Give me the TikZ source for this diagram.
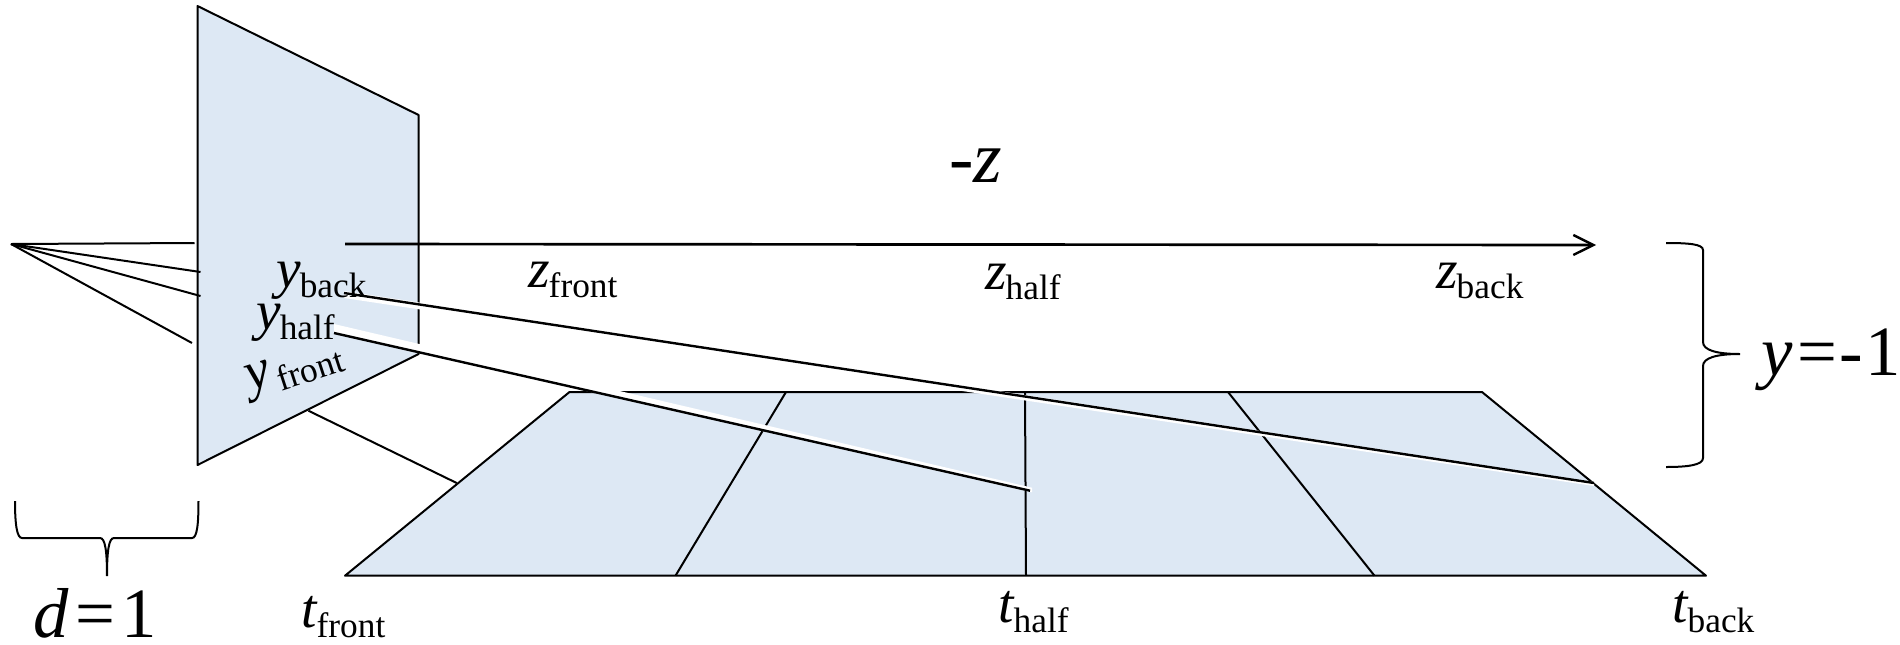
\documentclass[tikz,border=0pt]{standalone}
\usepackage{fontspec}
\setmainfont{Liberation Serif}
\usetikzlibrary{arrows.meta}
\definecolor{planefill}{HTML}{DDE8F4}
\newcommand{\mainsize}{\fontsize{41.5}{45}\selectfont}
\newcommand{\subsize}{\fontsize{26.5}{30}\selectfont}
\newcommand{\bigsize}{\fontsize{53}{58}\selectfont}
\newcommand{\lbl}[2]{\mainsize\textit{#1}\kern-0.6pt\raisebox{-7.5pt}{\subsize #2}}
\tikzset{
  edge/.style={draw=black,line width=1.5pt,line join=miter},
  plane/.style={fill=planefill,draw=black,line width=1.5pt,line join=round},
  halo/.style={fill=white,draw=none},
  ray/.style={draw=black,line width=1.8pt},
  axis/.style={draw=black,line width=2pt,-{Straight Barb[length=15pt,width=15pt,line width=1.8pt]}},
  txt/.style={anchor=base west,inner sep=0pt,outer sep=0pt,text=black}
}
\begin{document}
\begin{tikzpicture}[x=0.75pt,y=-0.75pt]
\useasboundingbox (0,0) rectangle (1900,644);
% image plane
\coordinate (pa) at (197.5,6);
\coordinate (pb) at (418.6,115);
\coordinate (pc) at (418.6,354);
\coordinate (pd) at (197.5,465);
\path[plane] (pa) -- (pb) -- (pc) -- (pd) -- cycle;
% ground plane
\coordinate (ga) at (569.5,392);
\coordinate (gb) at (1482,392);
\coordinate (gc) at (1706,575.7);
\coordinate (gd) at (345,575.7);
\path[plane] (ga) -- (gb) -- (gc) -- (gd) -- cycle;
\coordinate (g1a) at (786,392);
\coordinate (g1b) at (675.5,575.7);
\coordinate (g2a) at (1025,392);
\coordinate (g2b) at (1026,575.7);
\coordinate (g3a) at (1228,392);
\coordinate (g3b) at (1374.5,575.7);
\draw[edge] (g1a) -- (g1b);
\draw[edge] (g2a) -- (g2b);
\draw[edge] (g3a) -- (g3b);
\coordinate (la) at (308.4,410.7);
\coordinate (lb) at (456.7,483);
\draw[edge] (la) -- (lb);
% eye rays
\coordinate (eye) at (11,244);
\coordinate (e1) at (194.5,243);
\coordinate (e2) at (200.5,272);
\coordinate (e3) at (200.5,296);
\coordinate (e4) at (192,343);
\draw[edge] (eye) -- (e1);
\draw[edge] (eye) -- (e2);
\draw[edge] (eye) -- (e3);
\draw[edge] (eye) -- (e4);
% axis
\coordinate (ax0) at (345,244);
\coordinate (ax1) at (1596,245);
\draw[axis] (ax0) -- (ax1);
% projected rays with their white bands
\coordinate (r1a) at (344,293);
\coordinate (r1b) at (1594,483);
\coordinate (r2a) at (334,333);
\coordinate (r2b) at (1030,490.7);
\fill[halo] ([yshift=1.5pt]r1a) -- ([yshift=0.75pt]r1b) -- ([yshift=-2.25pt]r1b) -- ([yshift=-3.75pt]r1a) -- cycle;
\fill[halo] ([yshift=6.75pt]r2a) -- ([xshift=1.5pt,yshift=2.25pt]r2b) -- ([xshift=1.5pt,yshift=-1.2pt]r2b) -- ([yshift=-0.5pt]r2a) -- cycle;
\draw[ray] (r1a) -- (r1b);
\draw[ray] (r2a) -- (r2b);
% right brace
\coordinate (bra) at (1666,243);
\coordinate (brb) at (1666,467);
\coordinate (brt) at (1740,354);
\draw[edge] (bra) .. controls (1688,243) and (1703,244) .. (1703,250)
  -- (1703,342) .. controls (1703,350) and (1716,354) .. (brt)
  .. controls (1716,354) and (1703,358) .. (1703,366)
  -- (1703,458) .. controls (1703,465) and (1688,467) .. (brb);
% bottom brace
\coordinate (bla) at (15,501);
\coordinate (blb) at (198.5,501);
\coordinate (blt) at (107,576);
\draw[edge] (bla) .. controls (15,525) and (17,538) .. (22,538)
  -- (100,538) .. controls (105,538) and (107,550) .. (blt)
  .. controls (107,550) and (109,538) .. (114,538)
  -- (192,538) .. controls (197,538) and (198.5,525) .. (blb);
% labels
\node[txt] (minusz) at (949,182) {\fontsize{55}{60}\selectfont -\textit{z}};
\node[txt] (zfront) at (528,287) {\lbl{z}{front}};
\node[txt] (zhalf) at (985,289) {\lbl{z}{half}};
\node[txt] (zback) at (1436,288) {\lbl{z}{back}};
\node[txt] (yback) at (276,287) {\lbl{y}{back}};
\node[txt] (yhalf) at (256,329) {\lbl{y}{half}};
\node[txt,rotate=18] (yfront) at (250,391) {\lbl{y}{\,front}};
\node[txt] (tfront) at (301,627) {\lbl{t}{front}};
\node[txt] (thalf) at (998,622) {\lbl{t}{half}};
\node[txt] (tback) at (1672,622) {\lbl{t}{back}};
\node[txt] (d1) at (33,637) {\bigsize\textit{d}\kern5pt=\kern5pt 1};
\node[txt] (ym1) at (1761,375) {\bigsize\textit{y}\kern3.8pt=\kern1.5pt-\kern2.2pt 1};
\end{tikzpicture}
\end{document}
